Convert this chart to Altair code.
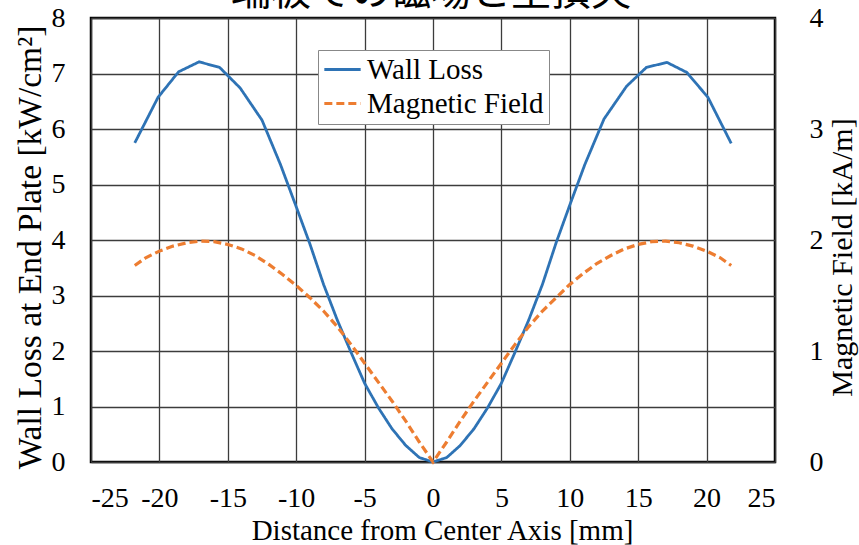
import altair as alt
import pandas as pd

TITLE = "端板での磁場と壁損失"
SERIES = ["Wall Loss", "Magnetic Field"]
COLORS = ["#2e73b5", "#ed7d31"]

# Wall loss at the end plate [kW/cm2] against radial distance [mm]
x_wall = [-21.8, -20.1, -18.6, -17.1, -15.6, -14.1, -12.5, -11.15, -10.0, -9.0,
          -8.0, -7.0, -6.0, -5.0, -4.0, -3.0, -2.0, -1.0, 0.0,
          1.0, 2.0, 3.0, 4.0, 5.0, 6.0, 7.0, 8.0, 9.0, 10.0,
          11.1, 12.5, 14.15, 15.6, 17.1, 18.55, 20.1, 21.8]
wall_loss = [5.75, 6.57, 7.03, 7.21, 7.11, 6.74, 6.16, 5.36, 4.60, 3.93,
             3.20, 2.56, 1.98, 1.42, 0.98, 0.60, 0.30, 0.08, 0.0,
             0.08, 0.30, 0.60, 0.98, 1.42, 1.98, 2.56, 3.20, 3.95, 4.63,
             5.36, 6.18, 6.77, 7.11, 7.20, 7.02, 6.57, 5.74]

# Magnetic field at the end plate [kA/m]
x_field = [-21.8, -21.0, -20.0, -19.0, -18.0, -17.0, -16.0, -15.0, -14.0, -13.0,
           -12.0, -11.0, -10.0, -9.0, -8.0, -7.0, -6.0, -5.0, -4.0, -3.0,
           -2.0, -1.0, 0.0, 1.0, 2.0, 3.0, 4.0, 5.0, 6.0, 7.0, 8.0, 9.0,
           10.0, 11.0, 12.0, 13.0, 14.0, 15.0, 16.0, 17.0, 18.0, 19.0,
           20.0, 21.0, 21.8]
magnetic_field = [1.77, 1.84, 1.90, 1.945, 1.975, 1.99, 1.985, 1.96, 1.92, 1.86,
                  1.78, 1.69, 1.59, 1.48, 1.36, 1.22, 1.06, 0.89, 0.72, 0.55,
                  0.37, 0.18, 0.0, 0.18, 0.37, 0.55, 0.72, 0.89, 1.06, 1.22,
                  1.36, 1.48, 1.60, 1.70, 1.79, 1.86, 1.92, 1.96, 1.985, 1.99,
                  1.975, 1.945, 1.90, 1.84, 1.77]

x_ticks = list(range(-25, 30, 5))

wall_df = pd.DataFrame({"x": x_wall, "value": wall_loss, "series": SERIES[0]})
field_df = pd.DataFrame({"x": x_field, "value": magnetic_field, "series": SERIES[1]})

SERIF = "Liberation Serif"
GRID = "#3c3c3c"

x_enc = alt.X(
    "x:Q",
    scale=alt.Scale(domain=[-25, 25], nice=False),
    axis=alt.Axis(
        values=x_ticks, labelExpr="'' + datum.value",
        title="Distance from Center Axis [mm]", ticks=False, domain=False,
        labelPadding=22, grid=True, gridColor=GRID, gridWidth=1.3,
        titleFontSize=29, titleBaseline="alphabetic", titleX=351, titleY=77,
    ),
)

# Wide stroke glyph for the legend keys
legend_opts = dict(
    title=None, orient="none", legendX=227, legendY=32,
    fillColor="white", strokeColor="#888888", padding=5,
    symbolType="M-2,0L2,0", symbolSize=330, symbolStrokeWidth=3,
    symbolFillColor="transparent", symbolOffset=5,
    labelFont=SERIF, labelFontSize=29, labelColor="black", labelLimit=400,
    labelOffset=10, rowPadding=4,
)

color_enc = alt.Color(
    "series:N",
    scale=alt.Scale(domain=SERIES, range=COLORS),
    legend=alt.Legend(**legend_opts),
)
dash_enc = alt.StrokeDash(
    "series:N",
    scale=alt.Scale(domain=SERIES, range=[[1, 0], [8, 4]]),
    legend=alt.Legend(**legend_opts),
)

wall_line = alt.Chart(wall_df).mark_line(strokeWidth=2.8).encode(
    x=x_enc,
    y=alt.Y(
        "value:Q",
        scale=alt.Scale(domain=[0, 8], nice=False),
        axis=alt.Axis(
            orient="left", values=list(range(0, 9)),
            title="Wall Loss at End Plate [kW/cm²]", ticks=False, domain=False,
            labelPadding=26, grid=True, gridColor=GRID, gridWidth=1.3,
            titleFontSize=33.5, titleAngle=270, titleBaseline="alphabetic",
            titleX=-51, titleY=229,
        ),
    ),
    color=color_enc,
    strokeDash=dash_enc,
)

field_line = alt.Chart(field_df).mark_line(strokeWidth=3.2).encode(
    x=x_enc,
    y=alt.Y(
        "value:Q",
        scale=alt.Scale(domain=[0, 4], nice=False),
        axis=alt.Axis(
            orient="right", values=list(range(0, 5)),
            title="Magnetic Field [kA/m]", ticks=False, domain=False,
            labelPadding=34, grid=False,
            titleFontSize=30, titleAngle=270, titleBaseline="alphabetic",
            titleX=76, titleY=239,
        ),
    ),
    color=color_enc,
    strokeDash=dash_enc,
)

# Heading text sits above the plot area, partly beyond the top edge
heading = alt.Chart(pd.DataFrame({"label": [TITLE]})).mark_text(
    font="Noto Sans CJK JP", fontSize=40, align="center", baseline="alphabetic",
    color="black",
).encode(
    x=alt.value(340),
    y=alt.value(-13),
    text="label:N",
)

chart = (
    alt.layer(wall_line, field_line, heading)
    .resolve_scale(y="independent")
    .properties(
        width=684,
        height=444,
        background="white",
        padding={"left": 91, "top": 18, "right": 84, "bottom": 83},
        autosize=alt.AutoSizeParams(type="none"),
    )
    .configure_view(stroke="black", strokeWidth=2.5)
    .configure_axis(
        labelFont=SERIF, labelFontSize=28, labelColor="black",
        titleFont=SERIF, titleFontWeight="normal", titleColor="black",
    )
)

chart.save("out.html", embed_options={"renderer": "svg", "actions": False})
